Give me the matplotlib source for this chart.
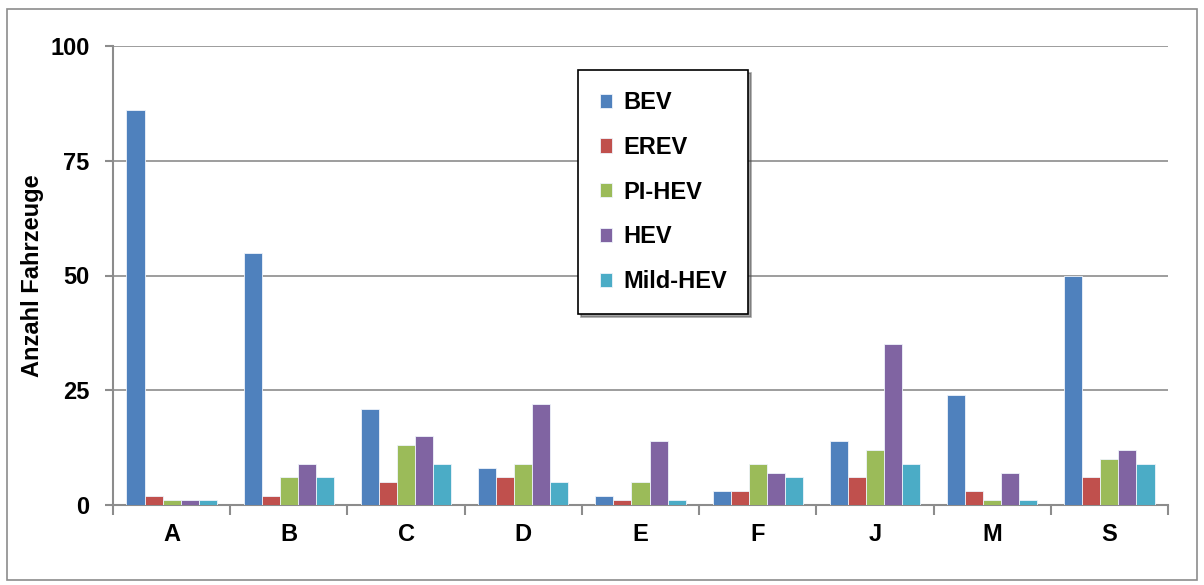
import numpy as np
import matplotlib.pyplot as plt
from matplotlib.patches import Rectangle

categories = ['A', 'B', 'C', 'D', 'E', 'F', 'J', 'M', 'S']
series = ['BEV', 'EREV', 'PI-HEV', 'HEV', 'Mild-HEV']
bev = [86, 55, 21, 8, 2, 3, 14, 24, 50]
erev = [2, 2, 5, 6, 1, 3, 6, 3, 6]
pihev = [1, 6, 13, 9, 5, 9, 12, 1, 10]
hev = [1, 9, 15, 22, 14, 7, 35, 7, 12]
mild = [1, 6, 9, 5, 1, 6, 9, 1, 9]
colors = ['#4F81BD', '#C0504D', '#9BBB59', '#8064A2', '#4BACC6']

plt.rcParams['font.family'] = ['Liberation Sans', 'DejaVu Sans']
plt.rcParams['font.weight'] = 'bold'

fig = plt.figure(figsize=(12.04, 5.85), dpi=100)
ax = fig.add_axes([113/1204, 1 - 505/585, 1055/1204, 459/585])

x = np.arange(len(categories))
w = 0.154
for i, (vals, name) in enumerate(zip([bev, erev, pihev, hev, mild], series)):
    ax.bar(x + (i - 2) * w, vals, w, color=colors[i], label=name,
           edgecolor='#EEF3FA', linewidth=0.6, zorder=3)

ax.set_xlim(-0.5, len(categories) - 0.5)
ax.set_ylim(0, 100)
ax.set_yticks([0, 25, 50, 75, 100])
ax.yaxis.grid(True, color='#8C8C8C', linewidth=1.2, zorder=0)
ax.set_xticks(x)
ax.set_xticklabels(categories, fontsize=17, fontweight='bold')
ax.tick_params(axis='x', length=0, pad=13)
ax.set_xticks(np.arange(len(categories) + 1) - 0.5, minor=True)
ax.tick_params(axis='x', which='minor', length=7, width=1.5, color='#8C8C8C', direction='out')
ax.tick_params(axis='y', length=6, width=1.5, color='#8C8C8C', labelsize=17, pad=11)
for lab in ax.get_yticklabels():
    lab.set_fontweight('bold')

for s in ['top', 'right']:
    ax.spines[s].set_visible(False)
for s in ['left', 'bottom']:
    ax.spines[s].set_color('#8C8C8C')
    ax.spines[s].set_linewidth(1.5)

ax.set_ylabel('Anzahl Fahrzeuge', fontsize=17, fontweight='bold', labelpad=4)

leg = ax.legend(loc='upper left', bbox_to_anchor=(0.441, 0.948), fontsize=17,
                frameon=True, fancybox=False, shadow=True, borderaxespad=0,
                handlelength=0.55, handleheight=0.55, handletextpad=0.45,
                labelspacing=0.92, borderpad=0.9)
leg.get_frame().set_edgecolor('black')
leg.get_frame().set_linewidth(1.2)
for t in leg.get_texts():
    t.set_fontweight('bold')

fig.patches.append(Rectangle((7/1204, 1 - 580/585), 1190/1204, 571/585,
                             transform=fig.transFigure, fill=False,
                             edgecolor='#8C8C8C', linewidth=1.2))

fig.savefig('out.png', dpi=100)
